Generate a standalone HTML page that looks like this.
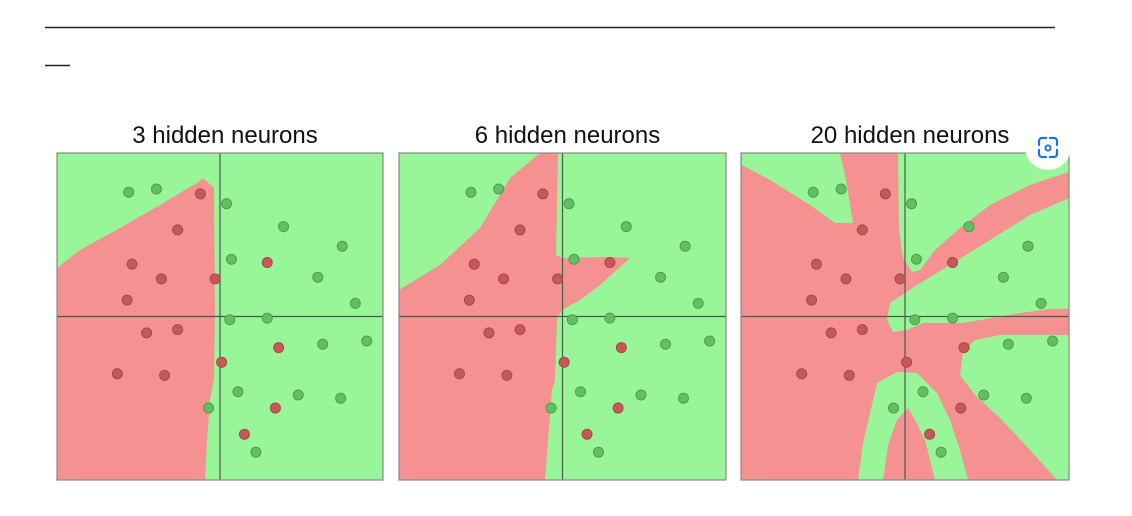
<!DOCTYPE html>
<html><head><meta charset="utf-8"><style>
html,body{margin:0;padding:0;background:#fff;width:1132px;height:516px;overflow:hidden}
svg{display:block}
text{font-family:"Liberation Sans",sans-serif}
</style></head><body>
<svg id="chart" width="1132" height="516" viewBox="0 0 1132 516">
<line x1="45" y1="27.5" x2="1055" y2="27.5" stroke="#222" stroke-width="1.5"/>
<line x1="45" y1="65.5" x2="70" y2="65.5" stroke="#222" stroke-width="1.5"/>
<g id="panels"></g>
<g>
<circle cx="1048" cy="147" r="23" fill="#fff" opacity="0.95"/>
<path d="M1039 145v-4a3 3 0 0 1 3-3h4 M1050 138h4a3 3 0 0 1 3 3v4 M1057 150v4a3 3 0 0 1-3 3h-4 M1046 157h-4a3 3 0 0 1-3-3v-4" fill="none" stroke="#1a73e8" stroke-width="2.2" stroke-linecap="round"/>
<circle cx="1048" cy="148" r="2.6" fill="none" stroke="#1a73e8" stroke-width="2"/>
</g>
</svg>
<script>
// data-space points (x,y in [-1,1])
const greenX=[-0.56,-0.39,0.04,0.39,0.75,0.07,0.60,0.83,0.06,0.29,0.90,0.63,-0.07,0.11,0.48,0.74,0.22];
const greenY=[0.76,0.78,0.69,0.55,0.43,0.35,0.24,0.08,-0.02,-0.01,-0.15,-0.17,-0.56,-0.46,-0.48,-0.50,-0.83];
const redX=[-0.12,-0.26,-0.54,-0.36,-0.57,-0.03,0.29,-0.45,-0.26,-0.63,-0.34,0.36,0.01,0.34,0.15];
const redY=[0.75,0.53,0.32,0.23,0.10,0.23,0.33,-0.10,-0.08,-0.35,-0.36,-0.19,-0.28,-0.56,-0.72];
const titles=["3 hidden neurons","6 hidden neurons","20 hidden neurons"];

const NS="http://www.w3.org/2000/svg";
const G="#98f598", R="#f59191";
const panels=[
 {x0:57,y0:153,w:326,h:327,bg:G,shapes:[{c:R,p:"57,268 80,250 120,228 160,205 200,181 203,178 214,188 215,310 214,378 210,400 207,440 205,480 57,480"}]},
 {x0:399,y0:153,w:327,h:327,bg:G,shapes:[{c:R,p:"399,290 440,265 480,228 510,178 540,153 558,153 556,255 562,258 604,257 630,258 600,285 580,300 562,310 557,318 555,380 552,390 548,440 545,480 399,480"}]},
 {x0:741,y0:153,w:328,h:327,bg:R,shapes:[
  {c:G,p:"742,153 840,153 846,180 853,223 835,223 810,205 770,180 742,165"},
  {c:G,p:"898,153 1069,153 1069,172 1030,185 990,205 960,228 935,250 920,270 912,272 903,258 899,230"},
  {c:G,p:"890,303 917,285 950,265 990,240 1030,215 1069,198 1069,309 1050,309 1020,313 963,323 923,323 907,330 893,332 887,320"},
  {c:G,p:"1069,335 1000,335 975,340 963,352 960,375 975,395 1000,418 1030,450 1057,480 1069,480"},
  {c:G,p:"858,480 863,443 877,383 897,372 917,373 937,393 950,420 960,450 968,480 935,480 925,440 915,420 908,408 897,420 888,445 883,480"}
 ]}
];
const root=document.getElementById('panels');
function mk(tag,attrs){const e=document.createElementNS(NS,tag);for(const k in attrs)e.setAttribute(k,attrs[k]);return e;}
panels.forEach((P,i)=>{
 const g=mk('g',{});
 
 
 root.appendChild(g);
 const cx=P.x0+P.w/2, cy=P.y0+P.h/2;
 const sx=v=>cx+v*P.w/2, sy=v=>cy-v*P.h/2;
 const t=mk('text',{x:cx+5,y:143,'text-anchor':'middle','font-size':'24',fill:'#111'});
 t.textContent=titles[i];
 
 
 g.appendChild(t);
 const bg=mk('rect',{x:P.x0,y:P.y0,width:P.w,height:P.h,fill:P.bg});
 
 
 g.appendChild(bg);
 P.shapes.forEach(s=>{
  const pg=mk('polygon',{points:s.p,fill:s.c});
  
  
  g.appendChild(pg);
 });
 const vx=mk('line',{x1:sx(0),y1:P.y0,x2:sx(0),y2:P.y0+P.h,stroke:'#4a5a4a','stroke-width':1.2});
 
 
 g.appendChild(vx);
 const hx=mk('line',{x1:P.x0,y1:sy(0),x2:P.x0+P.w,y2:sy(0),stroke:'#4a5a4a','stroke-width':1.2});
 
 
 g.appendChild(hx);
 const fr=mk('rect',{x:P.x0,y:P.y0,width:P.w,height:P.h,fill:'none',stroke:'#888','stroke-width':1.2});
 
 
 g.appendChild(fr);
 greenX.forEach((v,j)=>{
  const c=mk('circle',{cx:sx(v),cy:sy(greenY[j]),r:5,fill:'#62c062',stroke:'#4aa04a','stroke-width':1});
  
  
  g.appendChild(c);
 });
 redX.forEach((v,j)=>{
  const c=mk('circle',{cx:sx(v),cy:sy(redY[j]),r:5,fill:'#c65858',stroke:'#a84848','stroke-width':1});
  
  
  g.appendChild(c);
 });
});
</script>
</body></html>
